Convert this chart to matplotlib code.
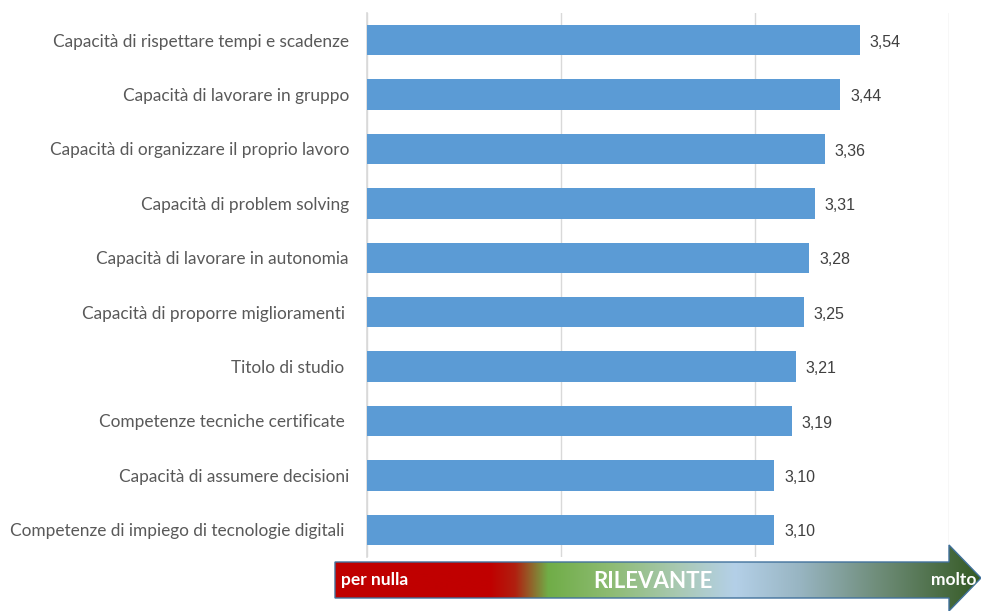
import matplotlib
matplotlib.use("Agg")
import matplotlib.pyplot as plt
import numpy as np
from matplotlib.patches import Polygon
from matplotlib.colors import to_rgb

categories = [
    "Capacità di rispettare tempi e scadenze",
    "Capacità di lavorare in gruppo",
    "Capacità di organizzare il proprio lavoro",
    "Capacità di problem solving",
    "Capacità di lavorare in autonomia",
    "Capacità di proporre miglioramenti ",
    "Titolo di studio ",
    "Competenze tecniche certificate ",
    "Capacità di assumere decisioni",
    "Competenze di impiego di tecnologie digitali ",
]
values = [3.54, 3.44, 3.36, 3.31, 3.28, 3.25, 3.21, 3.19, 3.10, 3.10]
x_ticks = [1, 2, 3, 4]

W, H = 981, 611
fig = plt.figure(figsize=(W / 100, H / 100), dpi=100)

ax = fig.add_axes([367 / W, 1 - 557 / H, (949 - 367) / W, (557 - 13) / H])
y = np.arange(len(categories))
ax.barh(y, values, left=0, height=0.56, color="#5B9BD5", zorder=3)
ax.set_xlim(1, 4)
ax.set_ylim(len(categories) - 0.5, -0.5)
ax.set_xticks(x_ticks)
ax.set_xticklabels([])
ax.tick_params(axis="x", length=0)
ax.tick_params(axis="y", length=0, pad=13)
ax.set_yticks(y)
ax.set_yticklabels(categories, fontsize=12.4, color="#595959", family="Lato")
ax.grid(axis="x", color="#D9D9D9", linewidth=1, zorder=0)
for s in ["top", "right", "bottom"]:
    ax.spines[s].set_visible(False)
ax.spines["left"].set_color("#D9D9D9")
ax.spines["left"].set_linewidth(1.2)

for yi, v in zip(y, values):
    ax.annotate(f"{v:.2f}".replace(".", ","), (v, yi + 0.04), xytext=(7, 0),
                textcoords="offset points", va="center", ha="left",
                fontsize=11.5, color="#404040", family="Liberation Sans")

# Gradient arrow along the bottom: "per nulla" -> "molto"
ov = fig.add_axes([0, 0, 1, 1], zorder=5)
ov.set_xlim(0, W)
ov.set_ylim(H, 0)
ov.axis("off")
ov.patch.set_alpha(0)

arrow_pts = [(335, 562), (949, 562), (949, 545), (981, 578),
             (949, 611), (949, 598), (335, 598)]
stops = [
    (335, "#C00000"), (490, "#C00000"), (515, "#B02010"),
    (548, "#70AD47"), (610, "#8DBB72"), (680, "#A9C9B4"),
    (735, "#B4D0E8"), (800, "#98B5C2"), (880, "#6E8C78"),
    (981, "#355A24"),
]
xs = np.arange(335, 982)
sx = [s[0] for s in stops]
cols = np.array([to_rgb(s[1]) for s in stops])
grad = np.stack([np.interp(xs, sx, cols[:, k]) for k in range(3)], axis=-1)
grad = grad[np.newaxis, :, :]

poly = Polygon(arrow_pts, closed=True, facecolor="none",
               edgecolor="#41719C", linewidth=1.0, zorder=6)
ov.add_patch(poly)
im = ov.imshow(grad, extent=(335, 981, 611, 545), aspect="auto", zorder=5,
               interpolation="bilinear")
im.set_clip_path(poly)

ov.text(341, 580, "per nulla", color="white", fontsize=12.5, fontweight="bold",
        va="center", ha="left", family="Lato", zorder=7)
ov.text(653, 581, "RILEVANTE", color="white", fontsize=16, fontweight="bold",
        va="center", ha="center", family="Lato", zorder=7)
ov.text(976, 580, "molto", color="white", fontsize=12.5, fontweight="bold",
        va="center", ha="right", family="Lato", zorder=7)

fig.savefig("out.png", dpi=100)
